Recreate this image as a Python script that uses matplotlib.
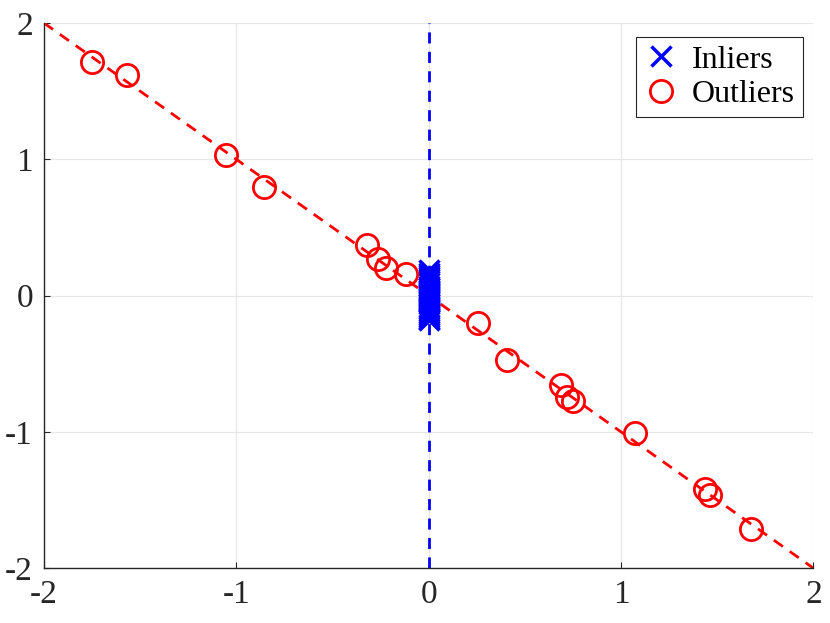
import matplotlib
matplotlib.use("Agg")
import matplotlib.pyplot as plt
import numpy as np

plt.rcParams['font.family'] = ['Liberation Serif', 'DejaVu Serif']
plt.rcParams['axes.unicode_minus'] = False

outlier_x = [-1.748, -1.566, -1.056, -0.858, -0.322, -0.265, -0.224, -0.120,
             0.255, 0.406, 0.687, 0.718, 0.749, 1.071, 1.436, 1.462, 1.675]
outlier_y = [1.713, 1.618, 1.030, 0.800, 0.375, 0.270, 0.206, 0.162,
             -0.198, -0.470, -0.654, -0.743, -0.772, -1.007, -1.419, -1.463, -1.713]
inlier_y = [0.185, 0.165, 0.15, 0.135, 0.12, 0.105, 0.09, 0.07, 0.055, 0.04,
            0.025, 0.01, -0.005, -0.02, -0.035, -0.05, -0.065, -0.08, -0.095,
            -0.11, -0.125, -0.14, -0.155, -0.168, -0.18]
inlier_x = [0.0] * len(inlier_y)
line_red_x = [-2, 2]
line_red_y = [2, -2]
line_blue_x = [0, 0]
line_blue_y = [-2, 2]
ticks = [-2, -1, 0, 1, 2]

fig = plt.figure(figsize=(8.3, 6.23), dpi=100)
ax = fig.add_axes([0.053, 0.088, 0.927, 0.875])

ax.plot(line_red_x, line_red_y, color='#ff0000', ls=(0, (4, 3)), lw=2.0, zorder=2)
ax.plot(line_blue_x, line_blue_y, color='#0000ff', ls=(0, (4, 3)), lw=2.0, zorder=2)
ax.plot(inlier_x, inlier_y, ls='none', marker='x', color='#0000ff', ms=15, mew=2.5,
        label='Inliers', zorder=3)
ax.plot(outlier_x, outlier_y, ls='none', marker='o', mfc='none', mec='#ff0000',
        ms=16, mew=2.0, label='Outliers', zorder=3)

ax.set_xlim(-2, 2)
ax.set_ylim(-2, 2)
ax.set_xticks(ticks)
ax.set_yticks(ticks)
ax.set_xticklabels([str(t) for t in ticks])
ax.set_yticklabels([str(t) for t in ticks])
ax.tick_params(direction='in', length=4, width=0.8, labelsize=24, color='#262626',
               labelcolor='#262626', pad=8)
ax.grid(True, color='#e6e6e6', lw=0.8)
ax.set_axisbelow(True)
for s in ['top', 'right']:
    ax.spines[s].set_visible(False)
for s in ['left', 'bottom']:
    ax.spines[s].set_color('#262626')
    ax.spines[s].set_linewidth(1.0)

leg = ax.legend(loc='upper right', fontsize=23, fancybox=False, framealpha=1,
                edgecolor='#262626', borderpad=0.25, labelspacing=0.15,
                handletextpad=0.4, handlelength=1.1, borderaxespad=0,
                bbox_to_anchor=(0.986, 0.974))
leg.get_frame().set_linewidth(0.8)

fig.savefig('out.png', dpi=100)
